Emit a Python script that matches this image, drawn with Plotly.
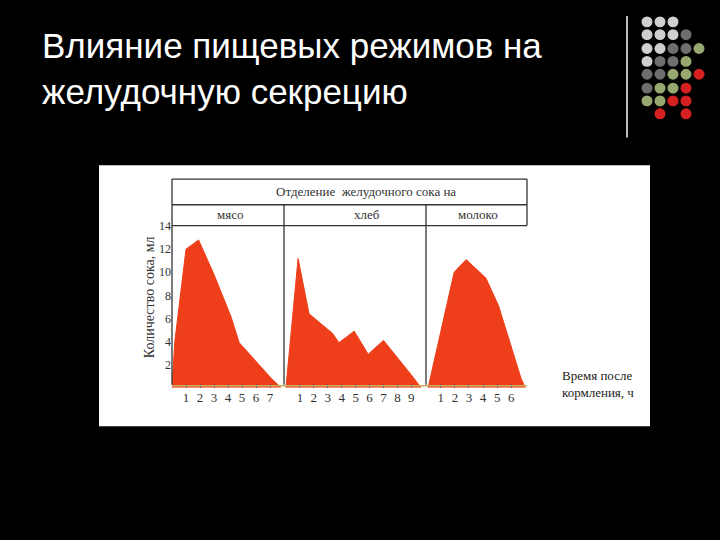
import plotly.graph_objects as go

meat_h = [0, 0.2, 1, 1.9, 3, 4.2, 4.8, 5.9, 7.1, 7.8]
meat_v = [0, 4, 12, 12.8, 9.8, 6.2, 3.9, 2.4, 0.8, 0]
bread_h = [0, 0.87, 1.66, 3.35, 3.8, 4.9, 5.9, 7.0, 9.0, 9.7]
bread_v = [0, 11.2, 6.4, 4.7, 3.9, 4.9, 2.9, 4.1, 1.1, 0]
milk_h = [0.1, 1.95, 2.8, 4.2, 5.1, 6.7, 7.0]
milk_v = [0, 10, 11.1, 9.5, 7.1, 0.8, 0]
foods = ["мясо", "хлеб", "молоко"]
y_ticks = [2, 4, 6, 8, 10, 12, 14]
x_ticks = [list(range(1, 8)), list(range(1, 10)), list(range(1, 7))]

W, H = 720, 540
px = lambda x: x / W
py = lambda y: 1 - y / H

fig = go.Figure()
panels = [(172, 284, [0, 8.0]), (284, 426, [-0.14, 10.05]), (426, 527, [-0.05, 7.12])]
series = [(meat_h, meat_v), (bread_h, bread_v), (milk_h, milk_v)]
RED = "#ee3f1a"
for i, ((x0, x1, rng), (hx, vy)) in enumerate(zip(panels, series)):
    n = "" if i == 0 else str(i + 1)
    fig.add_trace(go.Scatter(x=hx, y=vy, fill="tozeroy", mode="lines",
                             line=dict(color=RED, width=1), fillcolor=RED,
                             xaxis="x" + n, yaxis="y" + n, showlegend=False))
    fig.layout["xaxis" + n] = dict(domain=[px(x0), px(x1)], range=rng, anchor="y" + n,
                                   tickvals=x_ticks[i], ticks="inside", ticklen=4,
                                   tickcolor="#555", showgrid=False, zeroline=False,
                                   showline=False,
                                   tickfont=dict(family="Liberation Serif", size=13, color="#333"))
    ya = dict(domain=[py(386), py(222)], range=[0, 14.05], anchor="x" + n,
              showgrid=False, zeroline=False, showline=False)
    if i == 0:
        ya.update(tickvals=y_ticks, ticks="", tickfont=dict(family="Liberation Serif", size=12, color="#333"))
    else:
        ya.update(showticklabels=False)
    fig.layout["yaxis" + n] = ya

shapes = [dict(type="rect", xref="paper", yref="paper", x0=px(99), x1=px(650), y0=py(425), y1=py(161),
               fillcolor="white", line=dict(width=0), layer="below")]
def ln(x0, y0, x1, y1, c="#333", w=1.3):
    shapes.append(dict(type="line", xref="paper", yref="paper", x0=px(x0), x1=px(x1),
                       y0=py(y0), y1=py(y1), line=dict(color=c, width=w)))
for y in (175, 201, 222):
    ln(172, y, 527, y)
ln(172, 175, 172, 383)
ln(527, 175, 527, 222)
ln(284, 201, 284, 383)
ln(426, 201, 426, 383)
ln(172, 384, 527, 384, "#c8b060", 1.5)
ln(627, 10, 627, 133, "white", 1.5)

dots = [["lg", "lg", "lg"], ["lg", "lg", "lg", "dg"], ["lg", "lg", "dg", "dg", "gr"],
        ["lg", "dg", "dg", "gr"], ["dg", "dg", "gr", "gr", "rd"], ["dg", "gr", "gr", "rd"],
        ["gr", "gr", "rd", "rd"], [None, "rd", None, "rd"]]
cmap = {"lg": "#cfcfcf", "dg": "#6e6e6e", "gr": "#96a870", "rd": "#d42020"}
cols = [647, 660, 673, 686, 699]
rows = [16, 29, 43, 56, 69, 83, 96, 109]
for r, row in enumerate(dots):
    for c, k in enumerate(row):
        if k:
            cx, cy = cols[c], rows[r]
            shapes.append(dict(type="circle", xref="paper", yref="paper",
                               x0=px(cx - 5.5), x1=px(cx + 5.5), y0=py(cy + 5.5), y1=py(cy - 5.5),
                               fillcolor=cmap[k], line=dict(width=0)))

ser = dict(family="Liberation Serif", color="#333")
ann = [
    dict(text="Влияние пищевых режимов на<br>желудочную секрецию", x=px(40), y=py(18), xanchor="left",
         yanchor="top", align="left", font=dict(family="Liberation Sans", size=35, color="white")),
    dict(text="Отделение  желудочного сока на", x=px(366), y=py(188), xanchor="center", font=dict(size=13, **ser)),
    dict(text=foods[0], x=px(230), y=py(211), xanchor="center", font=dict(size=13, **ser)),
    dict(text=foods[1], x=px(367), y=py(211), xanchor="center", font=dict(size=13, **ser)),
    dict(text=foods[2], x=px(478), y=py(211), xanchor="center", font=dict(size=13, **ser)),
    dict(text="Количество сока, мл", x=px(140), y=py(295), textangle=-90, font=dict(size=14, **ser)),
    dict(text="Время после<br>кормления, ч", x=px(560), y=py(400), xanchor="left", align="left",
         font=dict(size=13, family="Liberation Serif", color="#222")),
]
for a in ann:
    a.update(xref="paper", yref="paper", showarrow=False)

fig.update_layout(width=W, height=H, margin=dict(l=0, r=0, t=0, b=0),
                  paper_bgcolor="black", plot_bgcolor="rgba(0,0,0,0)",
                  shapes=shapes, annotations=ann)
fig.write_html("out.html", config={"displayModeBar": False},
               post_script="document.body.style.margin='0';document.body.style.background='black';")
